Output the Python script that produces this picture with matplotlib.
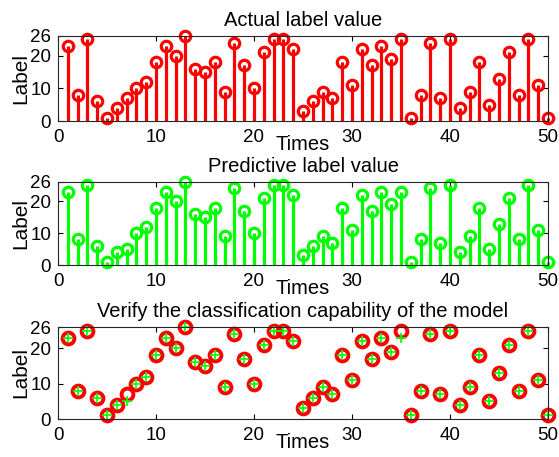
import numpy as np
import matplotlib
matplotlib.use("Agg")
import matplotlib.pyplot as plt

plt.rcParams["font.family"] = ["Liberation Sans", "DejaVu Sans"]

# sample index and class labels
times = np.arange(1, 51)
actual = [23, 8, 25, 6, 1, 4, 7, 10, 12, 18,
          23, 20, 26, 16, 15, 18, 9, 24, 17, 10,
          21, 25, 25, 22, 3, 6, 9, 7, 18, 11,
          22, 17, 23, 19, 25, 1, 8, 24, 7, 25,
          4, 9, 18, 5, 13, 21, 8, 25, 11, 1]
predicted = [23, 8, 25, 6, 1, 4, 5, 10, 12, 18,
             23, 20, 26, 16, 15, 18, 9, 24, 17, 10,
             21, 25, 25, 22, 3, 6, 9, 7, 18, 11,
             22, 17, 23, 19, 23, 1, 8, 24, 7, 25,
             4, 9, 18, 5, 13, 21, 8, 25, 11, 1]

titles = ["Actual label value", "Predictive label value",
          "Verify the classification capability of the model"]

fig = plt.figure(figsize=(5.59, 4.57), dpi=100)
W, H = 559, 457
boxes = [(36, 121), (182, 265), (327, 419)]
axes = []
for top, bot in boxes:
    ax = fig.add_axes([58 / W, 1 - bot / H, (548 - 58) / W, (bot - top) / H])
    axes.append(ax)


def stem_plot(ax, y, color):
    ml, sl, bl = ax.stem(times, y, linefmt="-", markerfmt="o", basefmt=" ")
    plt.setp(sl, color=color, linewidth=2.3)
    ml.set_markerfacecolor("none")
    ml.set_markeredgecolor(color)
    ml.set_markersize(7.5)
    ml.set_markeredgewidth(2.3)
    ml.set_clip_on(False)
    sl.set_clip_on(False)


stem_plot(axes[0], actual, (1, 0, 0))
stem_plot(axes[1], predicted, (0, 1, 0))

axes[2].plot(times, actual, "o", color=(1, 0, 0), markerfacecolor="none",
             markersize=8.5, markeredgewidth=2.8, clip_on=False)
axes[2].plot(times, predicted, "+", color=(0, 1, 0), markersize=7,
             markeredgewidth=1.2, clip_on=False)

for ax, t in zip(axes, titles):
    ax.set_xlim(0, 50)
    ax.set_ylim(0, 26)
    ax.set_xticks([0, 10, 20, 30, 40, 50])
    ax.set_yticks([0, 10, 20, 26])
    ax.tick_params(direction="in", top=True, right=True, length=3.5,
                   labelsize=13.5, width=0.8)
    ax.tick_params(axis="x", pad=6)
    ax.tick_params(axis="y", pad=5)
    for s in ax.spines.values():
        s.set_linewidth(0.8)
        s.set_color("#262626")
    ax.set_title(t, fontsize=14.5, pad=7)
    ax.set_xlabel("Times", fontsize=14.5, labelpad=-8)
    ax.set_ylabel("Label", fontsize=15, labelpad=0)

fig.savefig("out.png", dpi=100)
